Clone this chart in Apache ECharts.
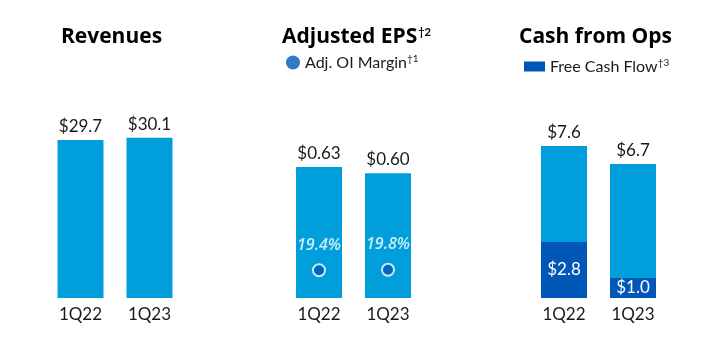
<!DOCTYPE html>
<html><head><meta charset="utf-8">
<script src="https://cdn.jsdelivr.net/npm/echarts@6/dist/echarts.min.js"></script>
<style>html,body{margin:0;padding:0;background:#fff}#c{width:725px;height:362px}</style>
</head><body><div id="c"></div>
<script>
var categories = ['1Q22', '1Q23'];
var revenues = [29.7, 30.1];
var adjEps = [0.63, 0.60];
var oiMargin = [19.4, 19.8];
var cashFromOps = [7.6, 6.7];
var freeCashFlow = [2.8, 1.0];

var LB = '#009FDB', DB = '#0057B8', TXT = '#1a1a1a';
var FONT = 'Lato, "Open Sans", sans-serif';
var TFONT = '"Open Sans", Lato, sans-serif';
var chart = echarts.init(document.getElementById('c'));

function grid(left){ return {left:left, width:138, top:100, bottom:64}; }
function xAxis(i){ return {type:'category', gridIndex:i, data:categories, axisLine:{show:false}, axisTick:{show:false},
  axisLabel:{color:TXT, fontSize:17, fontFamily:FONT, margin:8}}; }
function yAxis(i, max){ return {type:'value', gridIndex:i, min:0, max:max, show:false, splitLine:{show:false}}; }
var valLabel = {show:true, position:'top', distance:5, color:TXT, fontSize:17, fontFamily:FONT};
var rich = {
  t:{fontSize:21, fontWeight:'bold', color:'#000', fontFamily:TFONT},
  s:{fontSize:11, color:'#000', fontFamily:FONT, verticalAlign:'top', padding:[0,0,9,1]},
  l:{fontSize:16, color:TXT, fontFamily:FONT},
  ls:{fontSize:10, color:TXT, fontFamily:FONT, padding:[0,0,7,0]}
};

chart.setOption({
  animation:false,
  title:[
    {text:'{t|Revenues}', left:56, top:22, textStyle:{rich:rich}},
    {text:'{t|Adjusted EPS}{s|†2}', left:277, top:22, textStyle:{rich:rich}},
    {text:'{t|Cash from Ops}', left:514, top:22, textStyle:{rich:rich}}
  ],
  legend:[
    {left:281, top:49, itemWidth:14, itemHeight:14, itemGap:12, data:[{name:'Adj. OI Margin', icon:'circle', itemStyle:{color:DB, borderWidth:0}}],
      formatter:function(n){return '{l|'+n+'}{ls|†1}';}, textStyle:{rich:rich}, selectedMode:false},
    {left:519, top:53, itemWidth:21, itemHeight:10, itemGap:10, data:[{name:'Free Cash Flow', icon:'rect'}],
      formatter:function(n){return '{l|'+n+'}{ls|†3}';}, textStyle:{rich:rich}, selectedMode:false}
  ],
  grid:[grid(46), grid(284.5), grid(529.5)],
  xAxis:[xAxis(0), xAxis(1), xAxis(2), {type:'category', gridIndex:1, data:categories, show:false}],
  yAxis:[yAxis(0, 37.2), yAxis(1, 0.952), yAxis(2, 9.9), {type:'value', gridIndex:1, min:0, max:138.6, show:false, splitLine:{show:false}}],
  series:[
    {type:'bar', xAxisIndex:0, yAxisIndex:0, data:revenues, barWidth:46, itemStyle:{color:LB},
      label:Object.assign({}, valLabel, {formatter:function(p){return '$'+p.value.toFixed(1);}})},
    {type:'bar', xAxisIndex:1, yAxisIndex:1, data:adjEps, barWidth:46, itemStyle:{color:LB},
      label:Object.assign({}, valLabel, {formatter:function(p){return '$'+p.value.toFixed(2);}})},
    {name:'Adj. OI Margin', type:'scatter', xAxisIndex:3, yAxisIndex:3, data:oiMargin, symbol:'circle', symbolSize:12,
      itemStyle:{color:DB, borderColor:'#fff', borderWidth:2}, z:5,
      label:{show:true, position:'top', distance:10, color:'#fff', fontSize:16, fontStyle:'italic', fontWeight:600, fontFamily:TFONT,
        formatter:function(p){return p.value.toFixed(1)+'%';}}},
    {name:'Cash from Ops', type:'bar', xAxisIndex:2, yAxisIndex:2, data:cashFromOps, barWidth:46, barGap:'-100%', itemStyle:{color:LB},
      label:Object.assign({}, valLabel, {formatter:function(p){return '$'+p.value.toFixed(1);}})},
    {name:'Free Cash Flow', type:'bar', xAxisIndex:2, yAxisIndex:2, data:freeCashFlow, barWidth:46, barGap:'-100%', itemStyle:{color:DB}, z:3,
      label:{show:true, position:'inside', color:'#fff', fontSize:17, fontFamily:FONT, formatter:function(p){return '$'+p.value.toFixed(1);}}}
  ]
});
</script></body></html>
